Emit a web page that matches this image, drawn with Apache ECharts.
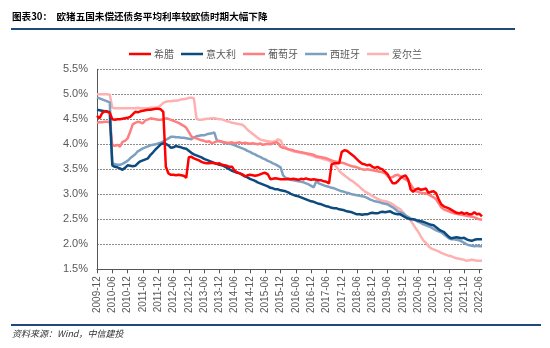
<!DOCTYPE html>
<html><head><meta charset="utf-8">
<script src="https://cdn.jsdelivr.net/npm/echarts@6/dist/echarts.min.js"></script>
<style>html,body{margin:0;padding:0;background:#fff}#c{width:550px;height:348px}</style>
</head><body><div id="c"></div>
<script>
// ---- data ----
const startYear = 2009, startMonth = 12, monthCount = 152;
const categories = [];
for (let i = 0; i < monthCount; i++) {
  const m = startMonth - 1 + i;
  const y = startYear + Math.floor(m / 12);
  const mm = (m % 12) + 1;
  categories.push(y + '-' + (mm < 10 ? '0' + mm : '' + mm));
}
const seriesNames = ['希腊', '意大利', '葡萄牙', '西班牙', '爱尔兰'];
const yTicks = [1.5, 2.0, 2.5, 3.0, 3.5, 4.0, 4.5, 5.0, 5.5];

const greece = [
4.57,4.52,4.62,4.66,4.65,4.63,4.50,4.49,4.50,4.50,
4.51,4.52,4.53,4.55,4.60,4.65,4.64,4.66,4.67,4.68,
4.69,4.69,4.70,4.71,4.71,4.70,4.65,3.55,3.42,3.39,
3.39,3.38,3.39,3.38,3.37,3.33,3.74,3.75,3.72,3.70,
3.68,3.65,3.63,3.62,3.62,3.63,3.62,3.61,3.62,3.59,
3.58,3.57,3.55,3.55,3.47,3.44,3.42,3.40,3.36,3.38,
3.39,3.38,3.37,3.38,3.40,3.42,3.43,3.40,3.30,3.31,
3.32,3.31,3.30,3.30,3.30,3.31,3.30,3.31,3.30,3.29,
3.31,3.30,3.32,3.30,3.29,3.30,3.29,3.28,3.28,3.26,
3.25,3.22,3.60,3.62,3.62,3.62,3.85,3.88,3.87,3.83,
3.79,3.75,3.70,3.65,3.61,3.60,3.58,3.59,3.55,3.53,
3.55,3.52,3.50,3.45,3.40,3.30,3.22,3.22,3.26,3.32,
3.36,3.38,3.30,3.10,3.05,3.10,3.12,3.09,3.10,3.12,
3.03,3.05,3.06,3.02,2.90,2.80,2.76,2.74,2.72,2.69,
2.66,2.63,2.62,2.64,2.61,2.63,2.60,2.60,2.64,2.60,2.61,2.56];

const italy = [
4.69,4.68,4.67,4.66,4.66,4.64,3.58,3.55,3.54,3.52,
3.49,3.53,3.58,3.57,3.56,3.57,3.62,3.66,3.68,3.70,
3.72,3.79,3.84,3.90,3.95,4.00,4.02,4.01,3.98,3.93,
3.94,3.97,3.95,3.94,3.92,3.91,3.87,3.83,3.80,3.78,
3.76,3.74,3.71,3.69,3.67,3.65,3.63,3.61,3.59,3.58,
3.56,3.53,3.50,3.47,3.45,3.43,3.42,3.39,3.36,3.34,
3.31,3.29,3.27,3.24,3.22,3.20,3.18,3.16,3.13,3.12,
3.10,3.10,3.08,3.07,3.06,3.04,3.01,2.99,2.97,2.96,
2.94,2.92,2.90,2.88,2.86,2.85,2.83,2.81,2.80,2.78,
2.76,2.75,2.73,2.72,2.72,2.70,2.69,2.68,2.66,2.65,
2.64,2.62,2.60,2.60,2.59,2.60,2.60,2.62,2.63,2.62,
2.62,2.64,2.65,2.64,2.65,2.66,2.63,2.61,2.60,2.60,
2.57,2.54,2.52,2.50,2.50,2.49,2.47,2.46,2.45,2.43,
2.41,2.39,2.38,2.34,2.30,2.27,2.25,2.20,2.15,2.12,
2.13,2.14,2.13,2.12,2.13,2.10,2.08,2.07,2.09,2.10,2.10,2.10];

const portugal = [
4.43,4.44,4.44,4.45,4.45,4.44,3.98,3.97,3.99,3.95,
4.05,4.07,4.12,4.25,4.40,4.43,4.45,4.44,4.42,4.48,
4.50,4.52,4.51,4.50,4.49,4.49,4.50,4.52,4.51,4.49,
4.47,4.45,4.43,4.40,4.37,4.33,4.25,4.16,4.13,4.12,
4.10,4.08,4.07,4.05,4.06,4.02,4.04,4.06,4.07,4.05,
4.04,4.03,4.03,4.04,4.02,4.03,4.04,4.02,4.03,4.02,
4.01,4.02,4.01,4.00,4.02,3.99,4.00,4.01,4.00,4.02,
4.04,4.03,3.95,3.93,3.92,3.90,3.89,3.88,3.86,3.85,
3.84,3.83,3.82,3.81,3.80,3.79,3.76,3.75,3.74,3.73,
3.72,3.70,3.68,3.66,3.65,3.64,3.63,3.62,3.60,3.58,
3.56,3.55,3.54,3.52,3.50,3.49,3.50,3.49,3.48,3.47,
3.46,3.45,3.44,3.42,3.36,3.33,3.35,3.38,3.39,3.36,
3.33,3.30,3.27,3.20,3.12,3.06,3.05,3.03,3.02,3.02,
3.00,2.97,2.94,2.90,2.82,2.74,2.70,2.68,2.66,2.64,
2.62,2.61,2.60,2.59,2.58,2.57,2.56,2.55,2.54,2.52,2.50,2.49];

const spain = [
4.94,4.92,4.90,4.88,4.86,4.84,3.63,3.60,3.59,3.59,
3.61,3.64,3.67,3.72,3.76,3.80,3.86,3.89,3.92,3.94,
3.96,3.98,3.99,4.00,4.02,4.03,4.06,4.09,4.12,4.15,
4.15,4.14,4.14,4.13,4.13,4.12,4.11,4.10,4.14,4.16,
4.17,4.18,4.18,4.20,4.21,4.22,4.24,4.08,4.06,4.05,
4.03,4.02,4.01,4.00,3.98,3.96,3.94,3.92,3.90,3.87,
3.85,3.82,3.80,3.77,3.75,3.72,3.70,3.67,3.65,3.62,
3.60,3.57,3.54,3.38,3.33,3.30,3.29,3.28,3.27,3.26,
3.25,3.24,3.22,3.20,3.17,3.14,3.26,3.22,3.20,3.18,
3.16,3.15,3.13,3.12,3.10,3.08,3.06,3.05,3.03,3.02,
3.00,2.99,2.98,2.97,2.96,2.95,2.93,2.90,2.88,2.86,
2.85,2.84,2.82,2.81,2.80,2.77,2.74,2.70,2.66,2.64,
2.62,2.58,2.55,2.52,2.50,2.48,2.45,2.43,2.40,2.38,
2.36,2.34,2.31,2.28,2.26,2.24,2.20,2.16,2.12,2.10,
2.10,2.09,2.08,2.06,2.03,2.00,1.98,1.97,1.96,1.97,1.96,1.96];

const ireland = [
5.00,5.00,5.00,5.00,5.00,4.99,4.73,4.72,4.72,4.72,
4.72,4.72,4.72,4.72,4.72,4.72,4.73,4.72,4.72,4.72,
4.72,4.73,4.73,4.73,4.74,4.78,4.83,4.85,4.86,4.86,
4.87,4.87,4.88,4.90,4.90,4.91,4.93,4.93,4.92,4.52,
4.49,4.49,4.50,4.51,4.51,4.52,4.52,4.51,4.50,4.50,
4.48,4.46,4.45,4.43,4.42,4.41,4.40,4.39,4.35,4.29,
4.25,4.21,4.17,4.13,4.10,4.08,4.07,4.06,4.05,4.05,
4.06,4.10,4.08,3.97,3.94,3.90,3.88,3.86,3.85,3.84,
3.83,3.82,3.81,3.79,3.78,3.76,3.74,3.73,3.72,3.70,
3.69,3.67,3.64,3.60,3.54,3.47,3.42,3.38,3.34,3.30,
3.27,3.23,3.19,3.15,3.10,3.06,3.03,3.00,2.97,2.94,
2.91,2.89,2.87,2.86,2.85,2.83,2.80,2.76,2.73,2.70,
2.64,2.58,2.53,2.48,2.40,2.32,2.25,2.16,2.08,2.03,
1.96,1.92,1.90,1.88,1.86,1.83,1.81,1.79,1.77,1.76,
1.74,1.72,1.71,1.70,1.69,1.67,1.68,1.69,1.68,1.67,1.67,1.67];

const colors = {'希腊':'#FF0000','意大利':'#0D4A7E','葡萄牙':'#FF7F80','西班牙':'#7EA0C0','爱尔兰':'#FFB0B0'};

// ---- chart ----
const chart = echarts.init(document.getElementById('c'), null, {renderer:'canvas'});
const mk = (name, data, z) => ({
  name, type:'line', data, symbol:'none', z,
  lineStyle:{width:2.5, color:colors[name]}, itemStyle:{color:colors[name]},
  animation:false
});
const txtColor = '#595959';
chart.setOption({
  animation:false,
  backgroundColor:'#fff',
  graphic:[
    {type:'text', left:12, top:12, style:{text:'图表30：  欧猪五国未偿还债务平均利率较欧债时期大幅下降', font:'bold 9.6px "Noto Sans CJK SC"', fill:'#000'}},
    {type:'rect', shape:{x:11, y:28, width:504, height:2}, style:{fill:'#1F497D'}},
    {type:'rect', shape:{x:11, y:324, width:530, height:2}, style:{fill:'#1F497D'}},
    {type:'text', left:12, top:329, style:{text:'资料来源：Wind，中信建投', font:'italic 9px "Noto Sans CJK SC"', fill:'#333'}}
  ],
  legend:{
    data:seriesNames, left:124, top:44, icon:'rect', itemWidth:22, itemHeight:2.5, itemGap:7,
    textStyle:{fontSize:10, color:txtColor, fontFamily:'"Noto Sans CJK SC"', padding:[0,0,0,-2]}
  },
  grid:{left:97, right:68, top:69.3, bottom:78.7, containLabel:false},
  xAxis:{
    type:'category', data:categories, boundaryGap:false,
    axisLine:{lineStyle:{color:'#555', width:1}},
    axisTick:{show:true, interval:5, length:4, lineStyle:{color:'#555'}},
    axisLabel:{interval:5, rotate:90, fontSize:10, color:txtColor, fontFamily:'"Liberation Sans"', margin:7},
    splitLine:{show:false}
  },
  yAxis:{
    type:'value', min:yTicks[0], max:yTicks[yTicks.length-1], interval:0.5,
    axisLine:{show:true, lineStyle:{color:'#555'}},
    axisTick:{show:false},
    axisLabel:{formatter:v=>v.toFixed(1)+'%', fontSize:11, color:txtColor, fontFamily:'"Liberation Sans"', margin:9},
    splitLine:{lineStyle:{color:'#8c8c8c', type:[2,1], width:1}}
  },
  series:[
    mk('爱尔兰', ireland, 1),
    mk('西班牙', spain, 2),
    mk('葡萄牙', portugal, 3),
    mk('意大利', italy, 4),
    mk('希腊', greece, 5)
  ]
});
</script></body></html>
